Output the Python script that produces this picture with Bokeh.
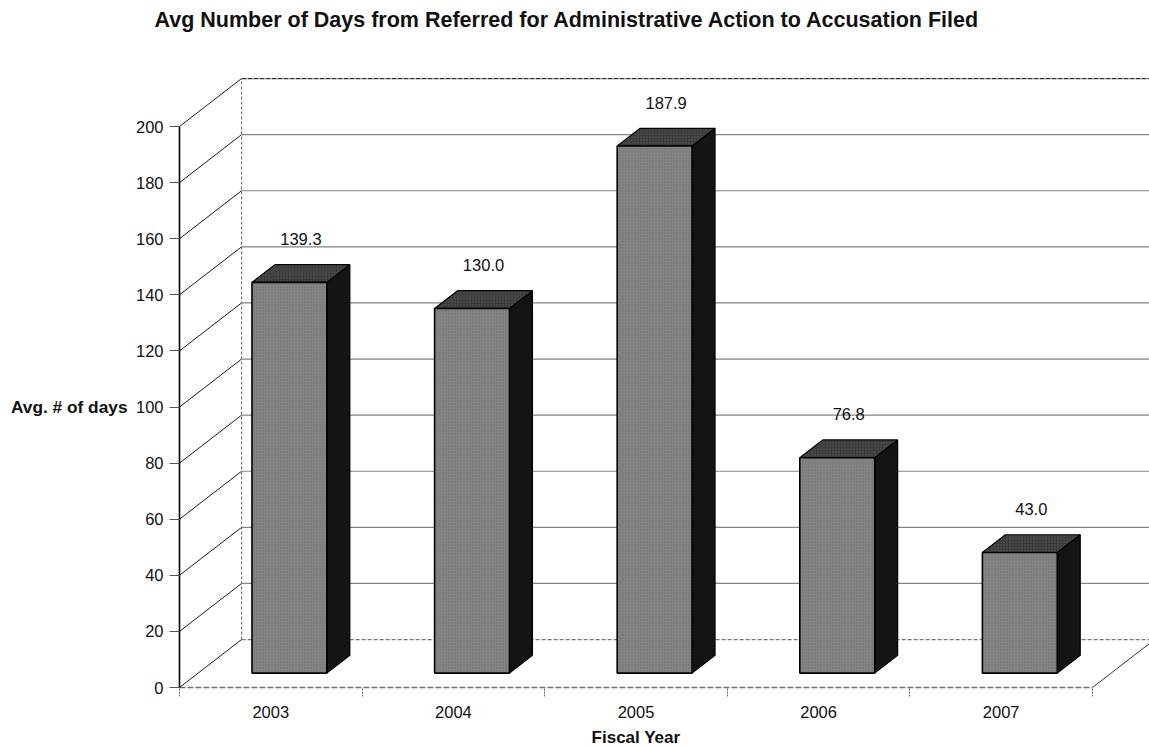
from bokeh.plotting import figure
from bokeh.models import Range1d, FixedTicker, ColumnDataSource
from bokeh.embed import file_html
from bokeh.resources import INLINE
from bokeh.core.properties import value

# ---- data ----
fiscal_years = ["2003", "2004", "2005", "2006", "2007"]
avg_days = [139.3, 130.0, 187.9, 76.8, 43.0]
day_ticks = [0, 20, 40, 60, 80, 100, 120, 140, 160, 180, 200]

TITLE = "Avg Number of Days from Referred for Administrative Action to Accusation Filed"
Y_LABEL = "Avg. # of days"
X_LABEL = "Fiscal Year"

# ---- layout (pixels) ----
PLOT_W, PLOT_H = 1149, 747
ORIGIN_X, ORIGIN_Y = 179, 687      # canvas position of the front axes' origin
PX_PER_CAT = 182.6
PX_PER_DAY = 2.805

N = len(fiscal_years)
Y_MAX = day_ticks[-1]

# depth of the 3-D box (walls / floor), in data units
DEPTH_X, DEPTH_Y = 0.34, 17.1
# bars occupy this slice of the depth
BAR_FRONT, BAR_BACK = 0.30, 0.67
BAR_W = 0.41
LABEL_GAP = 15.5

FONT = "Liberation Sans"
INK = "#111111"


def to_x(px):
    """canvas pixel column -> data x"""
    return (px - ORIGIN_X) / PX_PER_CAT


def to_y(py):
    """canvas pixel row -> data y"""
    return (ORIGIN_Y - py) / PX_PER_DAY


X_START, X_END = to_x(0), to_x(PLOT_W)
Y_START, Y_END = to_y(PLOT_H), to_y(0)

# the frame covers the whole canvas; the axes sit inside it at the origin
p = figure(width=PLOT_W, height=PLOT_H, title=None,
           x_range=Range1d(X_START, X_END), y_range=Range1d(Y_START, Y_END),
           output_backend="svg", toolbar_location=None, min_border=0,
           min_border_left=0, min_border_right=0,
           min_border_top=0, min_border_bottom=0)
p.xgrid.visible = False
p.ygrid.visible = False
p.outline_line_color = None
p.background_fill_color = "white"
p.border_fill_color = "white"

# ---- walls ----
inner = day_ticks[1:-1]
# back wall gridlines
p.multi_line(xs=[[DEPTH_X, X_END] for _ in inner],
             ys=[[t + DEPTH_Y] * 2 for t in inner],
             line_color="#858585", line_width=1.2)
# floor back edge and top edge of the back wall
p.line([DEPTH_X, X_END], [DEPTH_Y, DEPTH_Y],
       line_color="#777777", line_width=1.2, line_dash="4 2")
p.line([DEPTH_X, X_END], [Y_MAX + DEPTH_Y] * 2,
       line_color="#333333", line_width=1.3, line_dash="5 1")
# side wall diagonals
p.multi_line(xs=[[0, DEPTH_X] for _ in day_ticks],
             ys=[[t, t + DEPTH_Y] for t in day_ticks],
             line_color="#1a1a1a", line_width=1)
# back corner edge of the side wall
p.line([DEPTH_X, DEPTH_X], [DEPTH_Y, Y_MAX + DEPTH_Y],
       line_color="#777777", line_width=1.2, line_dash="3 2")
# right edge of the floor
p.line([N, N + DEPTH_X], [0, DEPTH_Y], line_color="#333333", line_width=1)

# ---- bars ----
fx, fy = BAR_FRONT * DEPTH_X, BAR_FRONT * DEPTH_Y
bdx, bdy = (BAR_BACK - BAR_FRONT) * DEPTH_X, (BAR_BACK - BAR_FRONT) * DEPTH_Y
centers = [i + 0.5 for i in range(N)]
lefts = [c - BAR_W / 2 + fx for c in centers]
rights = [c + BAR_W / 2 + fx for c in centers]
tops = [v + fy for v in avg_days]

side_xs = [[r, r + bdx, r + bdx, r] for r in rights]
side_ys = [[fy, fy + bdy, t + bdy, t] for t in tops]
p.patches(side_xs, side_ys, fill_color="#141414", line_color="black", line_width=1.2)

top_xs = [[l, l + bdx, r + bdx, r] for l, r in zip(lefts, rights)]
top_ys = [[t, t + bdy, t + bdy, t] for t in tops]
p.patches(top_xs, top_ys, fill_color="#3c3c3c", line_color="black", line_width=1.2,
          hatch_pattern="dot", hatch_color="#6a6a6a", hatch_scale=3, hatch_alpha=0.6)

p.quad(left=lefts, right=rights, bottom=fy, top=tops,
       fill_color="#848484", line_color="black", line_width=1.6,
       hatch_pattern="dot", hatch_color="#555555", hatch_scale=3, hatch_alpha=0.5)

# value labels above each bar
lab = ColumnDataSource(dict(
    x=[c + fx + bdx / 2 for c in centers],
    y=[v + fy + LABEL_GAP for v in avg_days],
    text=[f"{v:.1f}" for v in avg_days],
))
p.text(x="x", y="y", text="text", source=lab, text_font=value(FONT),
       text_font_size="16.5px", text_align="center", text_baseline="middle",
       text_color=INK)

# ---- axes, fixed at the front origin ----
yax = p.yaxis[0]
yax.fixed_location = 0
yax.ticker = FixedTicker(ticks=day_ticks)
yax.bounds = (0, Y_MAX)
yax.axis_line_color = "black"
yax.axis_line_width = 1.6
yax.major_tick_out = 10
yax.major_tick_in = 0
yax.major_tick_line_color = "#555555"
yax.minor_tick_line_color = None
yax.major_label_standoff = 6
yax.major_label_text_font = FONT
yax.major_label_text_font_size = "16.5px"
yax.major_label_text_color = INK

xax = p.xaxis[0]
xax.fixed_location = 0
xax.ticker = FixedTicker(ticks=centers, minor_ticks=list(range(N + 1)))
xax.major_label_overrides = {c: y for c, y in zip(centers, fiscal_years)}
xax.bounds = (0, N)
xax.axis_line_color = "#6f6f6f"
xax.axis_line_width = 1.3
xax.axis_line_dash = "6 2"
xax.major_tick_line_color = None
xax.major_tick_out = 0
xax.major_tick_in = 0
xax.minor_tick_out = 9
xax.minor_tick_in = 0
xax.minor_tick_line_color = "#666666"
xax.minor_tick_line_dash = "2 1"
xax.major_label_standoff = 9
xax.major_label_text_font = FONT
xax.major_label_text_font_size = "16.5px"
xax.major_label_text_color = INK

# ---- chart title and axis titles ----
titles = ColumnDataSource(dict(
    x=[to_x(567), to_x(127), N / 2],
    y=[to_y(19), Y_MAX / 2, to_y(737)],
    text=[TITLE, Y_LABEL, X_LABEL],
    size=["21.5px", "17.3px", "17px"],
    align=["center", "right", "center"],
))
p.text(x="x", y="y", text="text", source=titles, text_font=value(FONT),
       text_font_size="size", text_font_style="bold", text_align="align",
       text_baseline="middle", text_color=INK)

open("out.html", "w").write(file_html(p, INLINE))
